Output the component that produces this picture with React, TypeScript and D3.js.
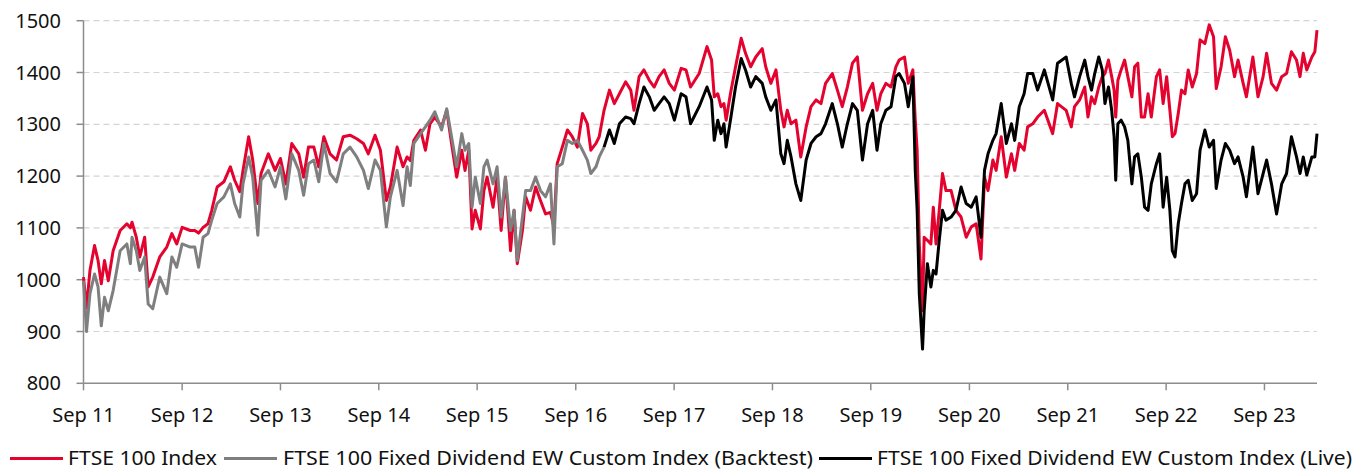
import * as d3 from "d3";
import React from "react";

const dates = [
  "2011-09-01", "2011-09-12", "2011-09-25", "2011-10-12", "2011-10-25", "2011-11-06", "2011-11-18", "2011-12-02",
  "2011-12-20", "2012-01-15", "2012-02-09", "2012-02-22", "2012-02-28", "2012-03-15", "2012-03-28", "2012-04-15",
  "2012-04-28", "2012-05-15", "2012-06-10", "2012-07-06", "2012-07-25", "2012-08-12", "2012-09-01", "2012-10-01",
  "2012-10-18", "2012-11-01", "2012-11-18", "2012-12-06", "2012-12-20", "2013-01-09", "2013-02-03", "2013-02-27",
  "2013-03-15", "2013-04-03", "2013-04-15", "2013-05-06", "2013-05-21", "2013-06-09", "2013-06-21", "2013-07-18",
  "2013-08-12", "2013-09-01", "2013-09-21", "2013-10-13", "2013-11-08", "2013-11-26", "2013-12-14", "2014-01-03",
  "2014-01-21", "2014-02-09", "2014-03-04", "2014-03-28", "2014-04-22", "2014-05-17", "2014-06-11", "2014-07-06",
  "2014-07-24", "2014-08-18", "2014-09-07", "2014-09-29", "2014-10-14", "2014-11-08", "2014-11-30", "2014-12-15",
  "2014-12-27", "2015-01-09", "2015-02-03", "2015-02-21", "2015-03-10", "2015-03-28", "2015-04-22", "2015-05-11",
  "2015-05-29", "2015-06-17", "2015-07-06", "2015-07-18", "2015-08-01", "2015-08-13", "2015-08-25", "2015-09-13",
  "2015-09-26", "2015-10-08", "2015-10-30", "2015-11-14", "2015-11-29", "2015-12-15", "2016-01-03", "2016-01-16",
  "2016-01-28", "2016-02-16", "2016-02-28", "2016-03-17", "2016-04-05", "2016-04-23", "2016-05-12", "2016-05-30",
  "2016-06-12", "2016-06-24", "2016-07-13", "2016-08-01", "2016-08-19", "2016-09-07", "2016-09-26", "2016-10-14",
  "2016-10-27", "2016-11-15", "2016-11-27", "2016-12-15", "2017-01-04", "2017-01-22", "2017-02-10", "2017-03-05",
  "2017-03-24", "2017-04-05", "2017-04-24", "2017-05-12", "2017-06-01", "2017-06-19", "2017-07-07", "2017-07-26",
  "2017-08-14", "2017-09-02", "2017-09-27", "2017-10-15", "2017-11-01", "2017-12-03", "2018-01-01", "2018-01-18",
  "2018-01-28", "2018-02-10", "2018-02-22", "2018-03-05", "2018-03-13", "2018-03-29", "2018-04-17", "2018-05-08",
  "2018-05-24", "2018-06-12", "2018-07-01", "2018-07-25", "2018-08-07", "2018-08-26", "2018-09-14", "2018-10-02",
  "2018-10-14", "2018-10-26", "2018-11-09", "2018-11-27", "2018-12-15", "2019-01-04", "2019-01-22", "2019-02-10",
  "2019-02-28", "2019-03-17", "2019-04-11", "2019-04-30", "2019-05-18", "2019-06-06", "2019-06-25", "2019-07-13",
  "2019-08-01", "2019-08-20", "2019-09-08", "2019-09-24", "2019-10-08", "2019-10-27", "2019-11-15", "2019-12-03",
  "2019-12-15", "2020-01-04", "2020-01-18", "2020-02-04", "2020-02-13", "2020-02-20", "2020-02-28", "2020-03-11",
  "2020-03-17", "2020-03-29", "2020-04-11", "2020-04-20", "2020-04-30", "2020-05-12", "2020-05-24", "2020-06-06",
  "2020-06-25", "2020-07-13", "2020-08-01", "2020-08-20", "2020-09-08", "2020-09-26", "2020-10-14", "2020-10-27",
  "2020-11-09", "2020-11-27", "2020-12-09", "2020-12-28", "2021-01-16", "2021-02-04", "2021-02-16", "2021-03-05",
  "2021-03-23", "2021-04-05", "2021-04-24", "2021-05-12", "2021-06-06", "2021-07-07", "2021-07-25", "2021-08-26",
  "2021-09-14", "2021-09-26", "2021-10-15", "2021-11-03", "2021-11-15", "2021-11-28", "2021-12-10", "2021-12-25",
  "2022-01-07", "2022-01-17", "2022-01-30", "2022-02-11", "2022-02-20", "2022-02-26", "2022-03-06", "2022-03-18",
  "2022-03-31", "2022-04-12", "2022-04-27", "2022-05-07", "2022-05-19", "2022-06-01", "2022-06-13", "2022-06-26",
  "2022-07-08", "2022-07-27", "2022-08-08", "2022-08-21", "2022-09-03", "2022-09-15", "2022-09-24", "2022-10-04",
  "2022-10-16", "2022-10-28", "2022-11-10", "2022-11-22", "2022-12-07", "2022-12-23", "2023-01-05", "2023-01-23",
  "2023-02-08", "2023-02-24", "2023-03-06", "2023-03-24", "2023-04-09", "2023-04-25", "2023-05-13", "2023-05-26",
  "2023-06-14", "2023-06-26", "2023-07-20", "2023-08-08", "2023-08-27", "2023-09-09", "2023-09-27", "2023-10-16",
  "2023-11-04", "2023-11-22", "2023-12-10", "2023-12-29", "2024-01-11", "2024-01-23", "2024-02-05", "2024-02-24",
  "2024-03-06", "2024-03-14",
];

// FTSE 100 Index
const ftse = [
  1005, 945, 1018, 1066, 1037, 992, 1037, 998,
  1056, 1095, 1108, 1100, 1111, 1082, 1044, 1082,
  986, 1005, 1044, 1063, 1089, 1069, 1101, 1095,
  1095, 1090, 1101, 1108, 1134, 1179, 1189, 1218,
  1192, 1170, 1211, 1276, 1231, 1147, 1205, 1243,
  1211, 1234, 1185, 1263, 1243, 1198, 1256, 1256,
  1218, 1276, 1243, 1231, 1276, 1279, 1272, 1263,
  1243, 1279, 1250, 1153, 1179, 1256, 1218, 1237,
  1230, 1269, 1289, 1250, 1301, 1314, 1295, 1327,
  1263, 1198, 1250, 1211, 1250, 1098, 1134, 1098,
  1172, 1198, 1140, 1198, 1095, 1198, 1056, 1134,
  1031, 1095, 1160, 1134, 1179, 1153, 1127, 1130,
  1102, 1224, 1256, 1289, 1276, 1256, 1321, 1301,
  1250, 1263, 1276, 1327, 1366, 1340, 1359, 1382,
  1366, 1327, 1392, 1405, 1385, 1372, 1392, 1405,
  1379, 1366, 1408, 1405, 1372, 1398, 1450, 1424,
  1353, 1359, 1334, 1340, 1308, 1359, 1411, 1466,
  1437, 1411, 1430, 1446, 1411, 1379, 1405, 1327,
  1295, 1327, 1301, 1308, 1237, 1295, 1334, 1347,
  1340, 1379, 1398, 1366, 1334, 1372, 1418, 1430,
  1327, 1359, 1379, 1327, 1359, 1379, 1372, 1411,
  1424, 1430, 1379, 1405, 1308, 1250, 1069, 940,
  1082, 1076, 1069, 1140, 1069, 1134, 1205, 1172,
  1172, 1134, 1121, 1082, 1102, 1108, 1040, 1198,
  1172, 1231, 1211, 1276, 1198, 1243, 1211, 1263,
  1250, 1295, 1301, 1314, 1327, 1282, 1340, 1327,
  1295, 1334, 1347, 1372, 1314, 1353, 1340, 1372,
  1392, 1398, 1424, 1392, 1366, 1314, 1385, 1405,
  1424, 1392, 1353, 1411, 1418, 1314, 1314, 1359,
  1314, 1392, 1405, 1340, 1392, 1327, 1276, 1282,
  1321, 1366, 1359, 1405, 1372, 1398, 1463, 1456,
  1492, 1469, 1369, 1411, 1469, 1443, 1392, 1424,
  1379, 1353, 1430, 1353, 1392, 1437, 1379, 1366,
  1392, 1398, 1440, 1424, 1392, 1437, 1405, 1430,
  1440, 1482,
];

// FTSE 100 Fixed Dividend EW Custom Index (backtest up to liveStart, live afterwards)
const fixedDividend = [
  998, 900, 973, 1011, 986, 911, 966, 940,
  979, 1056, 1069, 1031, 1082, 1056, 1018, 1044,
  953, 944, 1005, 973, 1044, 1024, 1069, 1063,
  1063, 1024, 1082, 1089, 1115, 1147, 1160, 1185,
  1147, 1121, 1185, 1237, 1198, 1086, 1192, 1211,
  1179, 1218, 1156, 1243, 1211, 1163, 1224, 1231,
  1189, 1263, 1205, 1189, 1243, 1256, 1237, 1211,
  1176, 1231, 1211, 1102, 1160, 1211, 1143, 1218,
  1182, 1263, 1282, 1295, 1308, 1324, 1289, 1330,
  1276, 1218, 1282, 1250, 1263, 1140, 1198, 1147,
  1218, 1231, 1185, 1218, 1121, 1198, 1095, 1134,
  1037, 1121, 1172, 1172, 1198, 1172, 1160, 1185,
  1069, 1218, 1224, 1269, 1263, 1269, 1250, 1231,
  1205, 1218, 1237, 1256, 1289, 1263, 1301, 1314,
  1311, 1301, 1340, 1372, 1353, 1327, 1340, 1353,
  1340, 1308, 1359, 1353, 1301, 1334, 1372, 1347,
  1269, 1308, 1282, 1301, 1256, 1308, 1372, 1427,
  1405, 1372, 1392, 1379, 1353, 1327, 1347, 1243,
  1224, 1269, 1237, 1185, 1153, 1231, 1263, 1276,
  1282, 1301, 1340, 1301, 1256, 1301, 1340, 1327,
  1231, 1301, 1327, 1250, 1301, 1327, 1334, 1392,
  1398, 1379, 1334, 1392, 1211, 1134, 973, 866,
  940, 1031, 986, 1018, 1011, 1076, 1134, 1115,
  1121, 1134, 1179, 1147, 1140, 1160, 1082, 1211,
  1243, 1269, 1282, 1340, 1263, 1301, 1269, 1334,
  1359, 1398, 1398, 1366, 1405, 1347, 1418, 1430,
  1379, 1353, 1392, 1424, 1392, 1366, 1398, 1430,
  1405, 1340, 1372, 1327, 1276, 1192, 1301, 1308,
  1295, 1269, 1185, 1237, 1243, 1198, 1140, 1134,
  1185, 1224, 1243, 1140, 1198, 1134, 1056, 1044,
  1108, 1147, 1185, 1192, 1153, 1166, 1250, 1289,
  1256, 1269, 1176, 1231, 1263, 1250, 1224, 1237,
  1198, 1160, 1256, 1166, 1205, 1231, 1185, 1127,
  1185, 1205, 1276, 1237, 1205, 1237, 1202, 1237,
  1237, 1282,
];

const liveStart = "2016-12-15";

const yTicks = [800, 900, 1000, 1100, 1200, 1300, 1400, 1500];
const tickYears = [2011, 2012, 2013, 2014, 2015, 2016, 2017, 2018, 2019, 2020, 2021, 2022, 2023];

const legendLabels = [
  "FTSE 100 Index",
  "FTSE 100 Fixed Dividend EW Custom Index (Backtest)",
  "FTSE 100 Fixed Dividend EW Custom Index (Live)",
];

const RED = "#e4032e";
const GREY = "#7f7f7f";
const BLACK = "#000000";
const AXIS = "#8c8c8c";
const FONT = "'Noto Sans', 'Open Sans', sans-serif";

type Pt = { d: Date; v: number };

export default function App() {
  const W = 1362, H = 470;
  const left = 83.5, right = 1317, top = 20.7, bottom = 383.3;

  const parse = d3.timeParse("%Y-%m-%d");
  const when = dates.map(s => parse(s) as Date);
  const split = parse(liveStart) as Date;

  const x = d3.scaleTime()
    .domain([new Date(2011, 8, 1), new Date(2024, 2, 14)])
    .range([left, right]);
  const y = d3.scaleLinear().domain([800, 1500]).range([bottom, top]);

  const redPts: Pt[] = when.map((d, i) => ({ d, v: ftse[i] }));
  const custom: Pt[] = when.map((d, i) => ({ d, v: fixedDividend[i] }));
  const backtest = custom.filter(p => p.d <= split);
  const live = custom.filter(p => p.d >= split);

  const line = d3.line<Pt>().x(p => x(p.d)).y(p => y(p.v));
  const fmt = d3.timeFormat("%b %y");
  const xTicks = tickYears.map(yr => new Date(yr, 8, 1));

  // legend layout: swatch start, text start, text width
  const legend = [
    { color: RED, sx: 10, tx: 68, tw: 149 },
    { color: GREY, sx: 224, tx: 283, tw: 530 },
    { color: BLACK, sx: 819, tx: 877, tw: 475 },
  ];

  return (
    <svg width={W} height={H} style={{ position: "absolute", left: 0, top: 0, background: "#fff" }}
      fontFamily={FONT}>
      {/* gridlines */}
      {yTicks.filter(t => t > 800).map(t => (
        <line key={"g" + t} x1={left} x2={right} y1={y(t)} y2={y(t)}
          stroke="#d4d4d4" strokeWidth={1.2} strokeDasharray="6,4" />
      ))}

      {/* y axis */}
      <line x1={left} x2={left} y1={top} y2={bottom} stroke={AXIS} strokeWidth={1.5} />
      {yTicks.map(t => (
        <g key={"y" + t}>
          <line x1={left - 7} x2={left} y1={y(t)} y2={y(t)} stroke={AXIS} strokeWidth={1.5} />
          <text x={61} y={y(t) + 7} textAnchor="end" fontSize={20} fill="#111">{t}</text>
        </g>
      ))}

      {/* series */}
      <path d={line(redPts) ?? ""} fill="none" stroke={RED} strokeWidth={3} strokeLinejoin="round" />
      <path d={line(backtest) ?? ""} fill="none" stroke={GREY} strokeWidth={3} strokeLinejoin="round" />
      <path d={line(live) ?? ""} fill="none" stroke={BLACK} strokeWidth={3} strokeLinejoin="round" />

      {/* x axis */}
      <line x1={left} x2={right} y1={bottom} y2={bottom} stroke={AXIS} strokeWidth={1.5} />
      {xTicks.map(d => (
        <g key={"x" + d.getFullYear()}>
          <line x1={x(d)} x2={x(d)} y1={bottom} y2={bottom + 7} stroke={AXIS} strokeWidth={1.5} />
          <text x={x(d)} y={421.5} textAnchor="middle" fontSize={20} fill="#111">{fmt(d)}</text>
        </g>
      ))}

      {/* legend */}
      {legend.map((l, i) => (
        <g key={"l" + i}>
          <line x1={l.sx} x2={l.sx + 53} y1={458.5} y2={458.5} stroke={l.color} strokeWidth={3} />
          <text x={l.tx} y={465} fontSize={19.5} fill="#111" textLength={l.tw}
            lengthAdjust="spacingAndGlyphs">{legendLabels[i]}</text>
        </g>
      ))}
    </svg>
  );
}
